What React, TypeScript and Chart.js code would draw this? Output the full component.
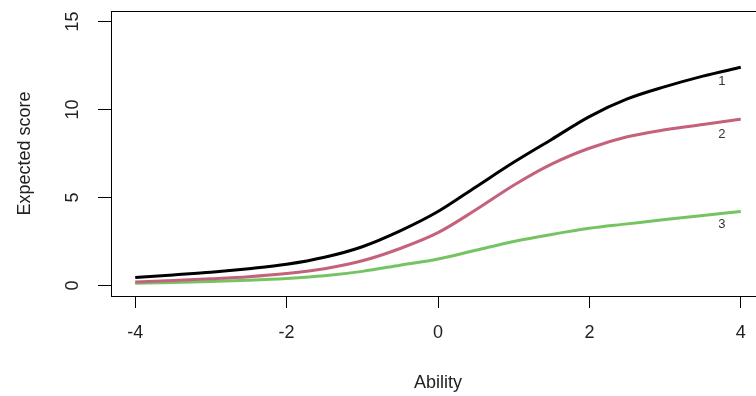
import React, { useEffect, useRef } from 'react';
import { Chart, registerables } from 'chart.js';

Chart.register(...registerables);

const abilities = [-4, -3.5, -3, -2.5, -2, -1.5, -1, -0.5, 0, 0.5, 1, 1.5, 2, 2.5, 3, 3.5, 4];
const score1 = [0.45, 0.6, 0.75, 0.95, 1.2, 1.6, 2.2, 3.1, 4.2, 5.6, 7.0, 8.3, 9.6, 10.6, 11.3, 11.9, 12.4];
const score2 = [0.2, 0.28, 0.38, 0.5, 0.68, 0.95, 1.4, 2.1, 3.0, 4.3, 5.7, 6.9, 7.8, 8.45, 8.85, 9.15, 9.45];
const score3 = [0.12, 0.17, 0.23, 0.3, 0.4, 0.55, 0.8, 1.15, 1.5, 2.0, 2.5, 2.9, 3.25, 3.5, 3.75, 3.98, 4.2];
const xTicks = [-4, -2, 0, 2, 4];
const yTicks = [0, 5, 10, 15];
const curveLabels = ['1', '2', '3'];
const curveLabelX = [3.75, 3.75, 3.75];
const curveLabelY = [11.6, 8.6, 3.45];

const FONT = "'Liberation Sans', Arial, sans-serif";

export default function App() {
  const ref = useRef<HTMLCanvasElement | null>(null);

  useEffect(() => {
    document.body.style.margin = '0';
    document.body.style.overflow = 'hidden';
    const canvas = ref.current;
    if (!canvas) return;

    const toPts = (ys: number[]) => abilities.map((x, i) => ({ x, y: ys[i] }));

    const framePlugin = {
      id: 'frameAndLabels',
      afterDraw(chart: any) {
        const { ctx, chartArea } = chart;
        const xs = chart.scales.x;
        const ys = chart.scales.y;
        ctx.save();
        ctx.strokeStyle = '#000';
        ctx.lineWidth = 1;
        ctx.strokeRect(
          Math.round(chartArea.left) + 0.5,
          Math.round(chartArea.top) + 0.5,
          Math.round(chartArea.right - chartArea.left),
          Math.round(chartArea.bottom - chartArea.top)
        );
        ctx.fillStyle = '#222';
        ctx.font = `18px ${FONT}`;
        ctx.textAlign = 'center';
        ctx.textBaseline = 'middle';
        ys.ticks.forEach((t: any) => {
          const py = ys.getPixelForValue(t.value);
          ctx.save();
          ctx.translate(73, py);
          ctx.rotate(-Math.PI / 2);
          ctx.fillText(String(t.value), 0, 0);
          ctx.restore();
        });
        ctx.font = `13px ${FONT}`;
        ctx.fillStyle = '#333';
        curveLabels.forEach((lab, i) => {
          ctx.fillText(lab, xs.getPixelForValue(curveLabelX[i]), ys.getPixelForValue(curveLabelY[i]));
        });
        ctx.restore();
      },
    };

    const chart = new Chart(canvas, {
      type: 'line',
      data: {
        datasets: [
          { label: '1', data: toPts(score1), borderColor: '#000000', borderWidth: 3, pointRadius: 0, cubicInterpolationMode: 'monotone', fill: false },
          { label: '2', data: toPts(score2), borderColor: '#c4627c', borderWidth: 3, pointRadius: 0, cubicInterpolationMode: 'monotone', fill: false },
          { label: '3', data: toPts(score3), borderColor: '#74c464', borderWidth: 3, pointRadius: 0, cubicInterpolationMode: 'monotone', fill: false },
        ],
      },
      options: {
        responsive: false,
        animation: false,
        devicePixelRatio: 1,
        layout: { padding: { top: 11, right: 15, left: 0, bottom: 0 } },
        plugins: { legend: { display: false }, tooltip: { enabled: false } },
        scales: {
          x: {
            type: 'linear',
            min: -4.32,
            max: 4.32,
            afterBuildTicks: (scale: any) => { scale.ticks = xTicks.map((v) => ({ value: v })); },
            afterFit: (scale: any) => { scale.height = 100; },
            ticks: { color: '#222', font: { size: 18, family: FONT }, padding: 14, maxRotation: 0, autoSkip: false },
            grid: { drawOnChartArea: false, drawTicks: true, tickLength: 12, color: '#000', lineWidth: 1 },
            border: { display: false },
            title: { display: true, text: 'Ability', color: '#222', font: { size: 18, family: FONT }, padding: { top: 2, bottom: 2 } },
          },
          y: {
            type: 'linear',
            min: -0.6,
            max: 15.6,
            afterBuildTicks: (scale: any) => { scale.ticks = yTicks.map((v) => ({ value: v })); },
            afterFit: (scale: any) => { scale.width = 111; },
            ticks: { display: false },
            grid: { drawOnChartArea: false, drawTicks: true, tickLength: 13, color: '#000', lineWidth: 1 },
            border: { display: false },
            title: { display: true, text: 'Expected score', color: '#222', font: { size: 18, family: FONT }, padding: { top: 14, bottom: 0 } },
          },
        },
      },
      plugins: [framePlugin],
    } as any);

    return () => chart.destroy();
  }, []);

  return (
    <div style={{ width: 756, height: 396, overflow: 'hidden', position: 'relative' }}>
      <canvas ref={ref} width={780} height={396} style={{ display: 'block' }} />
    </div>
  );
}
